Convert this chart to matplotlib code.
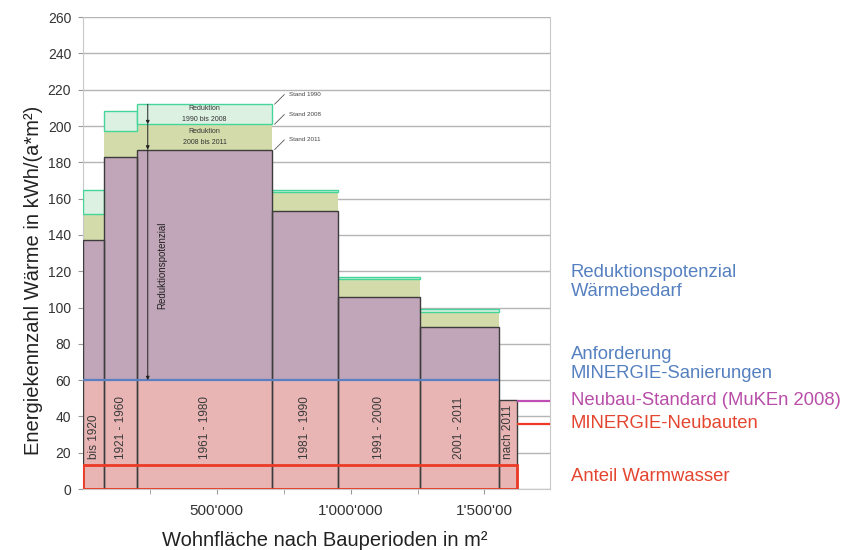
import numpy as np
import matplotlib
matplotlib.use("Agg")
import matplotlib.pyplot as plt
from matplotlib.patches import Rectangle
import matplotlib.transforms as mtransforms

plt.rcParams['font.family'] = ['Liberation Sans', 'DejaVu Sans']

# Bauperioden, Wohnflaeche (m2) und Energiekennzahlen (kWh/(a*m2))
periods = ["bis 1920", "1921 - 1960", "1961 - 1980", "1981 - 1990",
           "1991 - 2000", "2001 - 2011", "nach 2011"]
flaeche = [80000, 122000, 505000, 245000, 307000, 295000, 69000]
stand_2011 = [137, 183, 187, 153, 106, 89.5, 49]
stand_2008 = [151.5, 197.5, 201, 163.5, 115.5, 97.5, np.nan]
stand_1990 = [164.5, 208, 212, 165, 117, 99, np.nan]

minergie_sanierung = 60
neubau_standard = 48.5
minergie_neubau = 36
warmwasser = 13

xtick_pos = [500000, 1000000, 1500000]
xtick_labels = ["500'000", "1'000'000", "1'500'00"]

pink = '#e8b5b4'
purple = '#c1a5b9'
olive = '#d2dba9'
light_green = '#dcf1e2'
green_edge = '#45d49a'
blue = '#5b80c2'
magenta = '#c04fb5'
red = '#ec3a26'
text_blue = '#5580c0'
text_mag = '#b84ea8'
text_red = '#e4452f'

s2011 = np.array(stand_2011, dtype=float)
s2008 = np.array(stand_2008, dtype=float)
s1990 = np.array(stand_1990, dtype=float)
widths = np.array(flaeche, dtype=float)
edges = np.concatenate([[0], np.cumsum(widths)])
lefts = edges[:-1]
centers = lefts + widths / 2
xmax = 1745000

fig = plt.figure(figsize=(8.45, 5.5), dpi=100)
ax = fig.add_axes([0.0982, 0.1109, 0.5527, 0.858])

# pink part below the MINERGIE requirement, purple above
ax.bar(lefts, np.minimum(s2011, minergie_sanierung), width=widths, align='edge',
       color=pink, edgecolor='none', zorder=2)
above = np.clip(s2011 - minergie_sanierung, 0, None)
ax.bar(lefts, above, bottom=minergie_sanierung, width=widths, align='edge',
       color=purple, edgecolor='none', zorder=2)
ax.bar(lefts, s2011, width=widths, align='edge', fill=False,
       edgecolor='#3c3c3c', linewidth=1.0, zorder=4)

# reductions
ax.bar(lefts, s2008 - s2011, bottom=s2011, width=widths, align='edge',
       color=olive, edgecolor='none', zorder=2)
ax.bar(lefts, s1990 - s2008, bottom=s2008, width=widths, align='edge',
       color=light_green, edgecolor=green_edge, linewidth=1.0, zorder=3)

# reference lines
ax.hlines(minergie_sanierung, 0, edges[-2], color=blue, lw=1.6, zorder=5)
ax.hlines(neubau_standard, edges[-1], xmax, color=magenta, lw=1.6, zorder=5)
ax.hlines(minergie_neubau, edges[-1], xmax, color=red, lw=1.6, zorder=5)
ax.add_patch(Rectangle((0, 0), edges[-1], warmwasser, fill=False,
                       edgecolor=red, linewidth=2.0, zorder=6))

# period labels in the bars
for c, p in zip(centers, periods):
    ax.text(c, 16.5, p, rotation=90, ha='center', va='bottom',
            fontsize=8.5, color='#3a3a3a', zorder=7)

# annotations on the 1961 - 1980 bar
i = 2
ax.text(centers[i], (s1990[i] + s2008[i]) / 2, "Reduktion\n1990 bis 2008",
        ha='center', va='center', fontsize=5, linespacing=1.7, color='#333333', zorder=7)
ax.text(centers[i], (s2008[i] + s2011[i]) / 2, "Reduktion\n2008 bis 2011",
        ha='center', va='center', fontsize=5, linespacing=1.7, color='#333333', zorder=7)

arrow_x = lefts[i] + 40000
levels = [s1990[i], s2008[i], s2011[i], minergie_sanierung]
for y0, y1 in zip(levels[:-1], levels[1:]):
    ax.annotate('', xy=(arrow_x, y1), xytext=(arrow_x, y0),
                arrowprops=dict(arrowstyle='-|>', color='#222222', lw=0.7,
                                mutation_scale=5, shrinkA=0, shrinkB=0), zorder=7)
ax.text(arrow_x + 55000, 123, "Reduktionspotenzial", rotation=90,
        ha='center', va='center', fontsize=7, color='#222222', zorder=7)

for val, lab in zip([s1990[i], s2008[i], s2011[i]],
                    ["Stand 1990", "Stand 2008", "Stand 2011"]):
    ax.annotate('', xy=(edges[i + 1] + 9000, val), xytext=(7, 7),
                textcoords='offset points',
                arrowprops=dict(arrowstyle='-', color='#555555', lw=0.6,
                                shrinkA=0, shrinkB=0))
    ax.annotate(lab, xy=(edges[i + 1], val), xytext=(12, 7),
                textcoords='offset points', ha='left', va='center',
                fontsize=4.5, color='#444444')

# right hand labels
trans = mtransforms.blended_transform_factory(ax.transAxes, ax.transData)
right_labels = [("Reduktionspotenzial\nWärmebedarf", 114, text_blue),
                ("Anforderung\nMINERGIE-Sanierungen", 69, text_blue),
                ("Neubau-Standard (MuKEn 2008)", neubau_standard, text_mag),
                ("MINERGIE-Neubauten", minergie_neubau, text_red),
                ("Anteil Warmwasser", 7, text_red)]
for txt, yv, col in right_labels:
    ax.text(1.044, yv, txt, transform=trans, ha='left', va='center',
            fontsize=13.3, color=col, linespacing=1.15, clip_on=False)

# axes styling
ax.set_xlim(0, xmax)
ax.set_ylim(0, 260)
ax.set_yticks(np.arange(0, 261, 20))
ax.set_xticks(xtick_pos)
ax.set_xticklabels(xtick_labels)
ax.set_xticks(np.arange(250000, 1500001, 250000), minor=True)
ax.tick_params(axis='both', which='both', color='#999999', length=3.5,
               labelcolor='#333333')
ax.tick_params(axis='x', pad=7, labelsize=11)
ax.tick_params(axis='y', pad=5, labelsize=10)
ax.yaxis.grid(True, color='#b5b5b5', lw=1.0)
ax.set_axisbelow(True)
for s in ['left', 'right', 'bottom']:
    ax.spines[s].set_color('#c8c8c8')
ax.spines['top'].set_visible(False)

ax.set_ylabel("Energiekennzahl Wärme in kWh/(a*m²)", fontsize=14.5, color='#222222')
ax.yaxis.set_label_coords(-0.085, 0.443)
ax.set_xlabel("Wohnfläche nach Bauperioden in m²", fontsize=14.5, color='#222222')
ax.xaxis.set_label_coords(0.518, -0.09)

fig.savefig('out.png', dpi=100)
